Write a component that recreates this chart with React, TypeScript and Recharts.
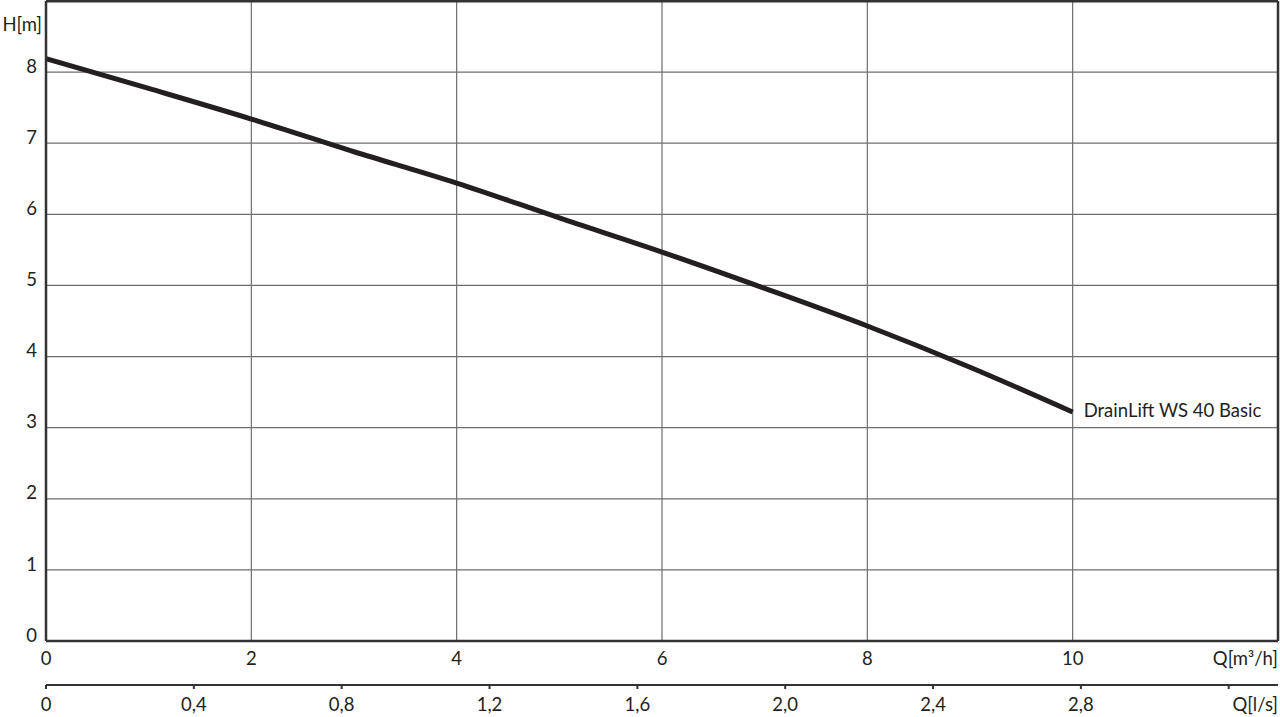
import React from "react";
import {
  LineChart,
  Line,
  XAxis,
  YAxis,
  CartesianGrid,
  ReferenceLine,
} from "recharts";

const flowM3h = [0, 1, 2, 3, 4, 5, 6, 7, 8, 9, 10];
const headM = [8.19, 7.77, 7.34, 6.88, 6.44, 5.95, 5.47, 4.96, 4.43, 3.85, 3.22];
const curveName = "DrainLift WS 40 Basic";

const qTicks = [0, 2, 4, 6, 8, 10, 12];
const hTicks = [0, 1, 2, 3, 4, 5, 6, 7, 8, 9];
const lsTicks = [0, 0.4, 0.8, 1.2, 1.6, 2.0, 2.4, 2.8, 3.2, 12 / 3.6];
const qUnit = "Q[m³/h]";
const lsUnit = "Q[l/s]";
const hUnit = "H[m]";
const M3H_PER_LS = 3.6;

const data = flowM3h.map((q, i) => ({ q, ls: q / M3H_PER_LS, h: headM[i] }));

const FONT = "Lato, 'Open Sans', sans-serif";
const TXT = "#231f20";
const FS = 18.5;

const QTick = (props: any) => {
  const { x, y, payload } = props;
  const v = payload.value;
  if (v === 12) {
    return (
      <text x={x} y={y + 19} textAnchor="end" fontFamily={FONT} fontSize={FS} fill={TXT} dominantBaseline="middle">
        {qUnit}
      </text>
    );
  }
  return (
    <text x={x} y={y + 19} textAnchor="middle" fontFamily={FONT} fontSize={FS} fill={TXT} dominantBaseline="middle">
      {String(v)}
    </text>
  );
};

const LsTick = (props: any) => {
  const { x, y, payload } = props;
  const v = payload.value;
  if (v > 3.3) {
    return (
      <text x={x} y={y + 21} textAnchor="end" fontFamily={FONT} fontSize={FS} fill={TXT} dominantBaseline="middle">
        {lsUnit}
      </text>
    );
  }
  const label = v === 0 ? "0" : v.toFixed(1).replace(".", ",");
  return (
    <g>
      <line x1={x} x2={x} y1={y} y2={y + 4} stroke="#333" strokeWidth={2} />
      {v < 3.1 && (
        <text x={x} y={y + 21} textAnchor="middle" fontFamily={FONT} fontSize={FS} fill={TXT} dominantBaseline="middle">
          {label}
        </text>
      )}
    </g>
  );
};

const HTick = (props: any) => {
  const { x, y, payload } = props;
  const v = payload.value;
  if (v === 9) {
    return (
      <text x={x - 4} y={y + 25} textAnchor="end" fontFamily={FONT} fontSize={FS} fill={TXT} dominantBaseline="middle">
        {hUnit}
      </text>
    );
  }
  return (
    <text x={x - 9} y={y - 4} textAnchor="end" fontFamily={FONT} fontSize={FS} fill={TXT} dominantBaseline="middle">
      {String(v)}
    </text>
  );
};

const EndLabel = (props: any) => {
  const { x, y, index } = props;
  if (index !== data.length - 1) return null;
  return (
    <text x={x + 11} y={y} fontFamily={FONT} fontSize={FS} fill={TXT} dominantBaseline="middle">
      {curveName}
    </text>
  );
};

export default function App() {
  return (
    <div style={{ position: "absolute", left: 0, top: 0, width: 1280, height: 717, background: "#fff" }}>
      <LineChart
        width={1280}
        height={717}
        data={data}
        margin={{ top: 1, right: 2, bottom: 0, left: 0 }}
      >
        <CartesianGrid xAxisId="a" stroke="#6e6e6e" strokeWidth={1.2} horizontalValues={hTicks} verticalValues={qTicks} />
        <XAxis
          xAxisId="a"
          dataKey="q"
          type="number"
          domain={[0, 12]}
          allowDataOverflow
          ticks={qTicks}
          interval={0}
          height={44}
          axisLine={{ stroke: "#333", strokeWidth: 2.5 }}
          tickLine={false}
          tickSize={0}
          tickMargin={0}
          tick={<QTick />}
        />
        <XAxis
          xAxisId="b"
          dataKey="ls"
          type="number"
          domain={[0, 12 / M3H_PER_LS]}
          allowDataOverflow
          ticks={lsTicks}
          interval={0}
          height={32}
          axisLine={{ stroke: "#333", strokeWidth: 2 }}
          tickLine={false}
          tickSize={0}
          tickMargin={0}
          tick={<LsTick />}
        />
        <YAxis
          type="number"
          domain={[0, 9]}
          ticks={hTicks}
          interval={0}
          width={46}
          axisLine={{ stroke: "#333", strokeWidth: 2.5 }}
          tickLine={false}
          tickSize={0}
          tickMargin={0}
          tick={<HTick />}
        />
        <ReferenceLine xAxisId="a" x={12} stroke="#333" strokeWidth={2.5} />
        <ReferenceLine xAxisId="a" y={9} stroke="#333" strokeWidth={3} />
        <Line
          xAxisId="a"
          dataKey="h"
          type="monotone"
          stroke="#231f20"
          strokeWidth={5}
          dot={false}
          isAnimationActive={false}
          label={<EndLabel />}
        />
      </LineChart>
    </div>
  );
}
